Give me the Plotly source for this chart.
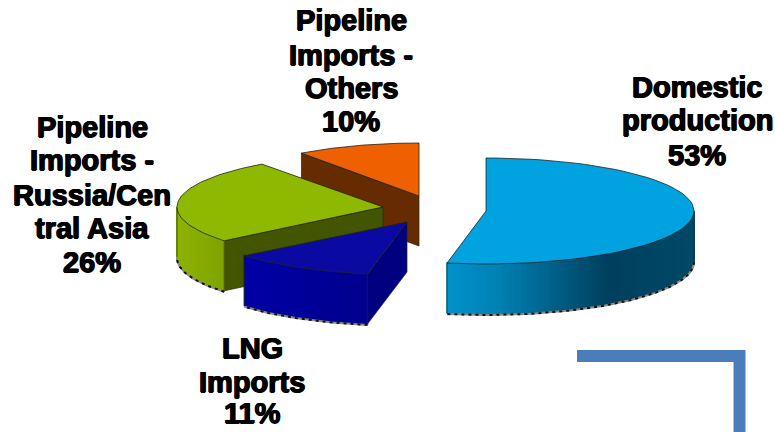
import math
import plotly.graph_objects as go

# Data
categories = ["Domestic production", "LNG Imports", "Pipeline Imports - Russia/Central Asia", "Pipeline Imports - Others"]
shares = [53, 11, 26, 10]
label_lines = [
    ["Domestic", "production", "53%"],
    ["LNG", "Imports", "11%"],
    ["Pipeline", "Imports -", "Russia/Cen", "tral Asia", "26%"],
    ["Pipeline", "Imports -", "Others", "10%"],
]

# Layout of the exploded pie (screen-like axis units)
DEPTH = 50
RY = 53
geom = [
    dict(cx=486, cy=211, rx=208),
    dict(cx=407, cy=222, rx=211),
    dict(cx=383, cy=207, rx=206),
    dict(cx=419, cy=196, rx=200),
]
top_col = ["#00A2E0", "#0A0AA2", "#8FB800", "#EE6000"]
side_stops = [
    [(0.0, "#0092CA"), (0.2, "#0082B4"), (0.65, "#003F5E"), (1.0, "#004A68")],
    [(0.0, "#0000A6"), (1.0, "#00008E")],
    [(0.0, "#8DB400"), (1.0, "#7EA200")],
    [(0.0, "#672B00"), (1.0, "#672B00")],
]
wall_col = [None, "#000080", "#445500", "#672B00"]
label_x = [697, 252, 92, 351]
label_y = [[87, 120, 155], [348, 382, 413], [127, 160, 195, 228, 262], [20, 55, 88, 121]]
draw_order = [3, 2, 0, 1]

# Angle ranges from shares, clockwise from the top
ang = []
acc = 0
for s in shares:
    ang.append((acc * 3.6, (acc + s) * 3.6))
    acc += s


def pt(g, deg, dz=0):
    t = math.radians(deg)
    return g["cx"] + g["rx"] * math.sin(t), g["cy"] - RY * math.cos(t) + dz


def arc(g, a0, a1, dz=0, n=60):
    pts = [pt(g, a0 + (a1 - a0) * i / n, dz) for i in range(n + 1)]
    return [p[0] for p in pts], [p[1] for p in pts]


def hex2rgb(h):
    return [int(h[i:i + 2], 16) for i in (1, 3, 5)]


def grad(stops, f):
    for (f0, c0), (f1, c1) in zip(stops, stops[1:]):
        if f <= f1:
            u = (f - f0) / (f1 - f0) if f1 > f0 else 0
            a, b = hex2rgb(c0), hex2rgb(c1)
            return "rgb(%d,%d,%d)" % tuple(round(a[k] + (b[k] - a[k]) * u) for k in range(3))
    return stops[-1][1]


fig = go.Figure()


def poly(xs, ys, fill, line=None, w=1):
    fig.add_trace(go.Scatter(x=xs, y=ys, mode="lines", fill="toself", fillcolor=fill,
                             line=dict(color=line or fill, width=w), hoverinfo="skip", showlegend=False))


def stroke(xs, ys, color, w=1, dash=None):
    fig.add_trace(go.Scatter(x=xs, y=ys, mode="lines", line=dict(color=color, width=w, dash=dash),
                             hoverinfo="skip", showlegend=False))


for i in draw_order:
    g = geom[i]
    a0, a1 = ang[i]
    apex = (g["cx"], g["cy"])

    # Flat radial wall on the starting radius, where it faces the viewer
    if wall_col[i]:
        p = pt(g, a0)
        xs = [apex[0], p[0], p[0], apex[0], apex[0]]
        ys = [apex[1], p[1], p[1] + DEPTH, apex[1] + DEPTH, apex[1]]
        poly(xs, ys, wall_col[i], "#222222", 0.7)

    # Curved outer side, front-facing part only
    s0, s1 = max(a0, 90), min(a1, 270)
    if s1 > s0:
        xt, yt = arc(g, s0, s1, 0, 60)
        xb, yb = arc(g, s0, s1, DEPTH, 60)
        xmin, xmax = min(xt), max(xt)
        for k in range(60):
            f = ((xt[k] + xt[k + 1]) / 2 - xmin) / (xmax - xmin)
            col = grad(side_stops[i], f)
            poly([xt[k], xt[k + 1], xb[k + 1], xb[k], xt[k]],
                 [yt[k], yt[k + 1], yb[k + 1], yb[k], yt[k]], col, col, 1.5)
        stroke(xb, [y + 1 for y in yb], "#8a8a8a", 2)
        stroke(xb, [y + 1 for y in yb], "#111111", 2, "3px,4px")
        stroke([xt[0], xb[0]], [yt[0], yb[0]], "#222222", 0.7)
        stroke([xt[-1], xb[-1]], [yt[-1], yb[-1]], "#222222", 0.7)

    # Top face
    xa, ya = arc(g, a0, a1)
    poly([apex[0]] + xa + [apex[0]], [apex[1]] + ya + [apex[1]], top_col[i], "#222222", 0.8)

# Decorative corner bracket
fig.add_shape(type="path", path="M 577 356 L 739.5 356 L 739.5 440",
              line=dict(color="#4A7EBB", width=12), xref="x", yref="y")

for i, lines in enumerate(label_lines):
    for line, y in zip(lines, label_y[i]):
        fig.add_annotation(x=label_x[i], y=y, text=line, showarrow=False, xanchor="center", yanchor="middle",
                           font=dict(family="Liberation Sans", size=29, color="#000000", weight="bold",
                                     shadow="0.7px 0 0 #000, -0.7px 0 0 #000, 0 0.5px 0 #000"))

fig.update_layout(
    width=775, height=432, margin=dict(l=0, r=0, t=0, b=0),
    paper_bgcolor="#FFFFFF", plot_bgcolor="#FFFFFF", showlegend=False,
    xaxis=dict(range=[0, 775], visible=False, fixedrange=True),
    yaxis=dict(range=[432, 0], visible=False, fixedrange=True),
)
fig.write_html("out.html", config=dict(displayModeBar=False),
               post_script="document.body.style.margin='0';document.documentElement.style.overflow='hidden';")
